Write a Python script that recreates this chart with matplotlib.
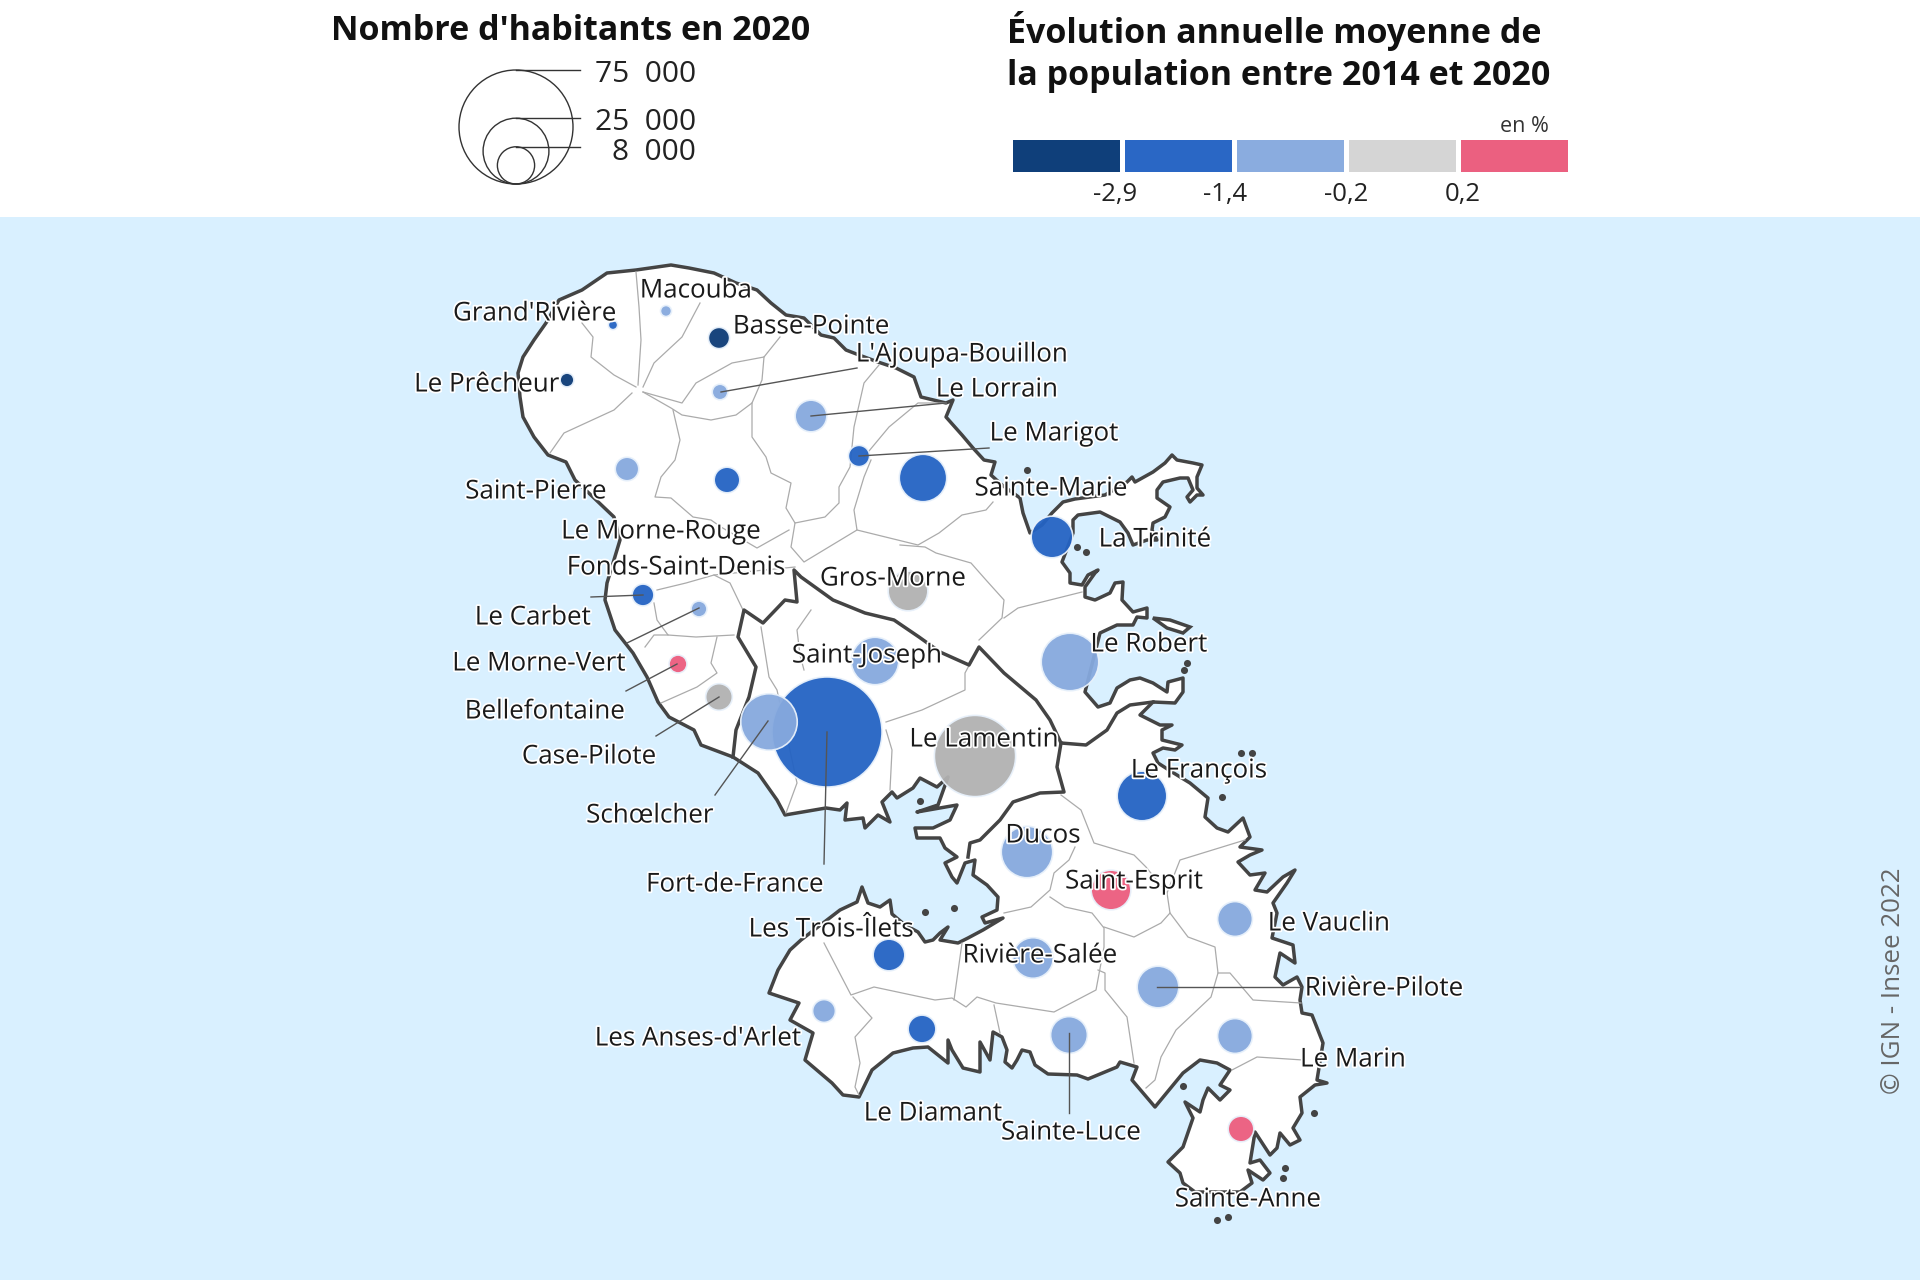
import matplotlib
matplotlib.use('Agg')
import matplotlib.pyplot as plt
import matplotlib.patheffects as pe
from matplotlib.patches import Circle, Polygon, Rectangle

plt.rcParams['font.family'] = ['Open Sans', 'DejaVu Sans']

# communes (population estimated from bubble radius)
communes = ["Macouba", "Grand'Rivière", "Basse-Pointe", "Le Prêcheur", "L'Ajoupa-Bouillon",
            "Le Lorrain", "Le Marigot", "Sainte-Marie", "Saint-Pierre", "Le Morne-Rouge",
            "Le Carbet", "Le Morne-Vert", "Bellefontaine", "Case-Pilote", "Schœlcher",
            "Fort-de-France", "Saint-Joseph", "Gros-Morne", "Le Lamentin", "Le Robert",
            "La Trinité", "Le François", "Ducos", "Saint-Esprit", "Le Vauclin",
            "Rivière-Salée", "Rivière-Pilote", "Les Trois-Îlets", "Les Anses-d'Arlet",
            "Le Diamant", "Sainte-Luce", "Le Marin", "Sainte-Anne"]
population = [700, 500, 2600, 1100, 1400,
              5800, 2600, 13000, 3200, 3800,
              2750, 1450, 1850, 4100, 18400,
              69900, 13000, 9100, 38100, 19100,
              10000, 14200, 15300, 9100, 7000,
              9500, 10000, 5800, 3000,
              4450, 7800, 7000, 3800]
classe = [2, 1, 0, 0, 2,
          2, 1, 1, 2, 1,
          1, 2, 4, 3, 2,
          1, 2, 3, 3, 2,
          1, 1, 2, 4, 2,
          2, 2, 1, 2,
          1, 2, 2, 4]
centre_x = [666, 613, 719, 567, 720, 811, 859, 923, 627, 727, 643, 699, 678, 719, 769, 827,
            875, 908, 975, 1070, 1052, 1142, 1027, 1111, 1235, 1033, 1158, 889, 824, 922,
            1069, 1235, 1241]
centre_y = [311, 325, 338, 380, 392, 416, 456, 478, 469, 480, 595, 609, 664, 697, 722, 732,
            661, 591, 756, 662, 537, 796, 852, 890, 919, 958, 987, 955, 1011, 1029,
            1035, 1036, 1129]

label_names = ["Macouba", "Grand'Rivière", "Basse-Pointe", "L'Ajoupa-Bouillon", "Le Prêcheur",
               "Le Lorrain", "Le Marigot", "Sainte-Marie", "Saint-Pierre", "Le Morne-Rouge",
               "La Trinité", "Fonds-Saint-Denis", "Gros-Morne", "Le Carbet", "Le Robert",
               "Saint-Joseph", "Le Morne-Vert", "Bellefontaine", "Le Lamentin", "Case-Pilote",
               "Le François", "Schœlcher", "Ducos", "Fort-de-France", "Saint-Esprit",
               "Le Vauclin", "Les Trois-Îlets", "Rivière-Salée", "Rivière-Pilote",
               "Les Anses-d'Arlet", "Le Marin", "Le Diamant", "Sainte-Luce", "Sainte-Anne"]
label_x = [696, 535, 811, 962, 487, 997, 1054, 1051, 536, 661, 1155, 676, 893, 533, 1149,
           867, 539, 545, 984, 589, 1199, 650, 1043, 735, 1134, 1329, 831, 1040, 1384,
           698, 1353, 933, 1071, 1248]
label_y = [291, 314, 327, 355, 385, 390, 434, 489, 492, 532, 540, 568, 579, 618, 645,
           656, 664, 712, 740, 757, 771, 816, 836, 885, 882, 924, 930, 956, 989,
           1039, 1060, 1114, 1133, 1200]

leaders = [[(721, 392), (857, 368)], [(811, 416), (946, 403)], [(859, 456), (989, 448)],
           [(643, 595), (591, 597)], [(699, 608), (627, 643)], [(677, 664), (626, 691)],
           [(719, 697), (656, 736)], [(768, 721), (715, 795)], [(827, 732), (824, 864)],
           [(1157, 987), (1301, 987)], [(1069, 1033), (1069, 1113)]]

# coast of the island, traced clockwise from the north-west
coast = [(546, 323), (559, 300), (582, 290), (607, 273), (636, 270), (671, 265), (689, 268),
         (714, 273), (736, 283), (757, 290), (771, 303), (786, 315), (804, 318), (821, 335),
         (834, 338), (846, 350), (859, 355), (878, 362), (896, 368), (914, 377), (921, 397),
         (946, 403), (953, 400), (946, 417), (962, 435), (973, 448), (984, 460), (995, 462),
         (991, 475), (1002, 485), (1020, 498), (1023, 513), (1030, 533), (1042, 525), (1052, 513),
         (1063, 502), (1075, 499), (1105, 495), (1127, 482), (1132, 477), (1135, 482), (1153, 472),
         (1165, 463), (1172, 455), (1177, 460), (1193, 463), (1202, 465), (1197, 477), (1197, 488),
         (1203, 495), (1197, 495), (1190, 502), (1187, 497), (1193, 490), (1188, 478), (1180, 478),
         (1163, 482), (1157, 490), (1157, 498), (1170, 507), (1165, 517), (1153, 523), (1152, 530),
         (1157, 540), (1147, 540), (1133, 545), (1128, 533), (1120, 522), (1100, 512), (1078, 515),
         (1073, 520), (1073, 533), (1062, 562), (1070, 573), (1070, 583), (1082, 585), (1088, 575),
         (1098, 570), (1095, 573), (1085, 587), (1085, 597), (1095, 600), (1110, 593), (1115, 583),
         (1123, 582), (1122, 600), (1133, 612), (1147, 608), (1147, 618), (1137, 617), (1133, 625),
         (1117, 625), (1100, 633), (1085, 692), (1098, 707), (1110, 703), (1117, 688), (1130, 680),
         (1140, 678), (1153, 683), (1167, 692), (1168, 682), (1183, 678), (1183, 692), (1175, 703),
         (1153, 702), (1140, 715), (1160, 725), (1172, 725), (1162, 730), (1162, 740), (1182, 745),
         (1175, 750), (1163, 748), (1153, 753), (1158, 763), (1172, 772), (1190, 783), (1208, 798),
         (1205, 817), (1217, 828), (1228, 832), (1243, 818), (1250, 837), (1240, 847), (1262, 850),
         (1250, 855), (1238, 862), (1250, 875), (1265, 873), (1255, 890), (1267, 892), (1283, 877),
         (1295, 870), (1287, 883), (1273, 903), (1277, 913), (1272, 938), (1293, 945), (1295, 963),
         (1280, 953), (1275, 977), (1283, 985), (1297, 977), (1302, 987), (1300, 1000), (1302, 1013),
         (1312, 1015), (1323, 1043), (1317, 1080), (1327, 1083), (1315, 1085), (1300, 1097),
         (1302, 1113), (1293, 1128), (1300, 1140), (1290, 1145), (1280, 1133), (1277, 1148),
         (1270, 1155), (1255, 1132), (1250, 1163), (1260, 1160), (1270, 1173), (1263, 1180),
         (1248, 1170), (1252, 1183), (1240, 1192), (1195, 1192), (1183, 1183), (1180, 1173),
         (1168, 1162), (1183, 1147), (1193, 1118), (1185, 1102), (1200, 1112), (1203, 1100),
         (1208, 1088), (1220, 1100), (1230, 1090), (1220, 1085), (1230, 1070), (1217, 1063),
         (1200, 1060), (1183, 1073), (1155, 1107), (1132, 1080), (1137, 1067), (1120, 1062),
         (1117, 1067), (1088, 1079), (1077, 1075), (1048, 1074), (1035, 1065), (1030, 1052),
         (1022, 1050), (1017, 1060), (1012, 1068), (1005, 1062), (1007, 1050), (1002, 1037),
         (993, 1032), (990, 1060), (980, 1042), (980, 1072), (963, 1068), (952, 1050), (948, 1040),
         (948, 1063), (928, 1047), (913, 1048), (893, 1053),
         (872, 1070), (859, 1097), (843, 1095), (832, 1083), (805, 1060), (813, 1033), (790, 1020),
         (799, 1003), (769, 993), (778, 970), (790, 950), (801, 940), (840, 910), (857, 902),
         (862, 887), (868, 903), (880, 907), (890, 900), (892, 914), (905, 925), (918, 932),
         (925, 942), (933, 940), (940, 933), (948, 927), (940, 940), (958, 943), (968, 938),
         (983, 930), (1003, 918), (985, 923), (982, 917), (997, 910), (998, 897), (987, 885),
         (973, 875), (975, 860), (965, 863), (957, 883), (952, 877), (945, 863), (957, 857),
         (945, 848), (940, 838), (917, 838), (915, 828), (933, 828), (950, 820), (957, 805),
         (917, 812), (938, 805), (948, 777), (937, 787), (920, 778), (913, 788), (897, 798),
         (892, 792), (882, 802), (890, 822), (878, 815), (865, 828), (863, 818), (845, 820),
         (847, 803), (840, 810), (826, 808), (785, 815),
         (777, 800), (758, 773), (733, 757), (701, 745), (694, 730), (669, 717), (658, 702),
         (647, 677), (633, 653), (615, 630), (605, 600), (607, 583), (620, 540), (614, 517),
         (593, 497), (575, 480), (566, 462), (548, 455), (534, 437), (523, 417), (520, 397),
         (518, 373), (523, 357), (534, 340)]

robert_island = [(1153, 618), (1170, 620), (1190, 627), (1183, 633), (1167, 628)]

# thick limits between groups of communes
limit_north = [(733, 757), (736, 730), (749, 697), (756, 667), (738, 637), (744, 610), (763, 623),
               (785, 600), (797, 602), (794, 570), (801, 577), (833, 600), (865, 613), (894, 620),
               (919, 637), (940, 652), (969, 665), (979, 647), (1004, 673), (1036, 700), (1050, 720),
               (1061, 743), (1086, 745), (1107, 730), (1117, 713), (1130, 705), (1153, 702)]
limit_south = [(1061, 743), (1057, 767), (1064, 792), (1040, 793), (1013, 802), (1000, 820),
               (980, 840), (970, 843), (968, 857)]

# thin limits between communes
thin_limits = [
    [(636, 272), (639, 307), (641, 340), (638, 385)],
    [(582, 323), (593, 337), (591, 357), (614, 375), (636, 387)],
    [(700, 303), (682, 337), (654, 363), (643, 387)],
    [(643, 392), (682, 403), (696, 383), (732, 363), (764, 357), (780, 337)],
    [(764, 357), (762, 380), (752, 403), (736, 415), (711, 420), (682, 415), (671, 408), (643, 392)],
    [(632, 393), (614, 410), (564, 433), (550, 453)],
    [(673, 410), (680, 440), (675, 460), (661, 477), (655, 497), (671, 498), (693, 517), (711, 520),
     (721, 527), (757, 548), (789, 530)],
    [(752, 403), (752, 437), (766, 457), (771, 473), (791, 483), (786, 508), (795, 523), (825, 517),
     (839, 503), (839, 487), (850, 467), (854, 427), (864, 383), (879, 365)],
    [(864, 457), (889, 427), (918, 403), (946, 403)],
    [(795, 523), (791, 547), (804, 562), (857, 530), (854, 510), (864, 477), (871, 460)],
    [(857, 530), (918, 545), (939, 533), (962, 515), (986, 510), (993, 502)],
    [(900, 545), (925, 547), (936, 553), (971, 563), (986, 580), (1004, 600), (1002, 618), (979, 640)],
    [(1004, 618), (1018, 608), (1082, 592)],
    [(795, 567), (714, 575), (686, 583), (657, 590)],
    [(714, 575), (730, 583), (743, 610)],
    [(654, 603), (657, 620), (668, 635), (696, 637), (734, 635)],
    [(645, 647), (654, 635), (668, 635)],
    [(717, 637), (711, 663), (717, 673), (697, 687), (661, 703)],
    [(761, 627), (769, 677), (777, 690), (797, 783), (786, 813)],
    [(811, 610), (797, 630), (800, 655), (804, 670)],
    [(886, 722), (922, 710), (965, 690), (965, 673), (979, 647)],
    [(886, 730), (892, 750), (890, 790)],
    [(1075, 847), (1069, 860), (1054, 873), (1050, 890), (1031, 907), (1004, 913)],
    [(1061, 795), (1081, 810), (1094, 843), (1134, 855), (1146, 867), (1167, 893)],
    [(1245, 840), (1180, 860), (1167, 893), (1170, 913), (1161, 923), (1134, 937), (1104, 927)],
    [(1050, 897), (1065, 907), (1092, 913), (1104, 928), (1104, 947), (1096, 990), (1054, 1012),
     (996, 1003), (977, 997), (966, 1007), (952, 998), (935, 1000), (874, 987), (851, 995), (824, 943)],
    [(962, 943), (954, 1000)],
    [(1170, 913), (1188, 937), (1215, 947), (1218, 973), (1211, 997), (1176, 1030), (1161, 1057),
     (1155, 1080), (1146, 1088)],
    [(1098, 970), (1105, 973), (1105, 990), (1127, 1017), (1134, 1063)],
    [(1218, 973), (1230, 973), (1253, 1000), (1301, 1003)],
    [(1232, 1070), (1257, 1057), (1303, 1060)],
    [(853, 997), (872, 1018), (855, 1037), (860, 1063), (855, 1087), (859, 1095)],
    [(994, 1005), (1000, 1033)],
]

islets_x = [1027, 1077, 1086, 1184, 1187, 954, 925, 920, 1314, 1285, 1283, 1217, 1228, 1241, 1252, 1222, 1183]
islets_y = [470, 547, 552, 670, 663, 908, 912, 801, 1113, 1168, 1178, 1220, 1217, 753, 753, 797, 1086]

# legend content
legend_pop = [75000, 25000, 8000]
legend_pop_text = ["75  000", "25  000", "8  000"]
legend_text_y = [75, 123, 152]
class_colors = ['#0F3F7A', '#2A67C5', '#8AACDF', '#D5D5D5', '#EB6080']
map_colors = ['#0C3B76', '#2463C3', '#86A9DE', '#B1B1B1', '#EB5C7D']
bin_limits = ["-2,9", "-1,4", "-0,2", "0,2"]
bin_label_x = [1115, 1225, 1346, 1463]
bar_left = [1013, 1125, 1237, 1349, 1461]

R_MAX = 57.0


def radius(pop):
    return R_MAX * (pop / 75000) ** 0.5


fig = plt.figure(figsize=(19.2, 12.8), dpi=100, facecolor='white')
ax = fig.add_axes([0, 0, 1, 1])
ax.set_xlim(0, 1920)
ax.set_ylim(1280, 0)
ax.axis('off')

ax.add_patch(Rectangle((0, 217), 1920, 1063, fc='#D9F0FF', ec='none', zorder=0))
ax.add_patch(Polygon(coast, closed=True, fc='white', ec='#444444', lw=2.5, joinstyle='round', zorder=1))
ax.add_patch(Polygon(robert_island, closed=True, fc='white', ec='#444444', lw=2.5, zorder=1))

for seg in thin_limits:
    ax.plot([p[0] for p in seg], [p[1] for p in seg], color='#ABABAB', lw=0.9, zorder=2)
for seg in [limit_north, limit_south]:
    ax.plot([p[0] for p in seg], [p[1] for p in seg], color='#444444', lw=2.5, zorder=3)
ax.scatter(islets_x, islets_y, s=26, color='#444444', lw=0, zorder=3)

# big bubbles first, Schœlcher ends up over Fort-de-France
order = sorted(range(len(communes)), key=lambda i: -population[i])
for n, i in enumerate(order):
    ax.add_patch(Circle((centre_x[i], centre_y[i]), radius(population[i]), fc=map_colors[classe[i]],
                        ec='#E8F1FB', lw=1.2, alpha=0.95, zorder=4 + n * 0.01))

for seg in leaders:
    ax.plot([p[0] for p in seg], [p[1] for p in seg], color='#555555', lw=1.0, zorder=5)

halo = [pe.withStroke(linewidth=2.5, foreground='white')]
for name, x, y in zip(label_names, label_x, label_y):
    ax.text(x, y, name, fontsize=18.7, color='#1A1A1A', ha='center', va='center',
            path_effects=halo, zorder=6)

# legend: bubble sizes
ax.text(571, 31, "Nombre d'habitants en 2020", fontsize=24.5, fontweight='bold', color='#111111',
        ha='center', va='center')
for pop, txt, ty in zip(legend_pop, legend_pop_text, legend_text_y):
    r = radius(pop)
    ax.add_patch(Circle((516, 184 - r), r, fc='none', ec='#333333', lw=1.0))
    ax.plot([516, 580], [184 - 2 * r, 184 - 2 * r], color='#333333', lw=1.0)
    ax.text(696, ty, txt, fontsize=21.5, color='#222222', ha='right', va='center')

# legend: classes
ax.text(1007, 31, "Évolution annuelle moyenne de", fontsize=24.5, fontweight='bold', color='#111111',
        ha='left', va='center')
ax.text(1007, 76, "la population entre 2014 et 2020", fontsize=24.5, fontweight='bold', color='#111111',
        ha='left', va='center')
ax.text(1549, 127, "en %", fontsize=15.5, color='#333333', ha='right', va='center')
for left, col in zip(bar_left, class_colors):
    ax.add_patch(Rectangle((left, 140), 107, 32, fc=col, ec='none'))
for txt, x in zip(bin_limits, bin_label_x):
    ax.text(x, 195, txt, fontsize=18.5, color='#222222', ha='center', va='center')

ax.text(1893, 981, "© IGN - Insee 2022", fontsize=18.7, color='#666666', rotation=90,
        ha='center', va='center')

fig.savefig('out.png', dpi=100)
